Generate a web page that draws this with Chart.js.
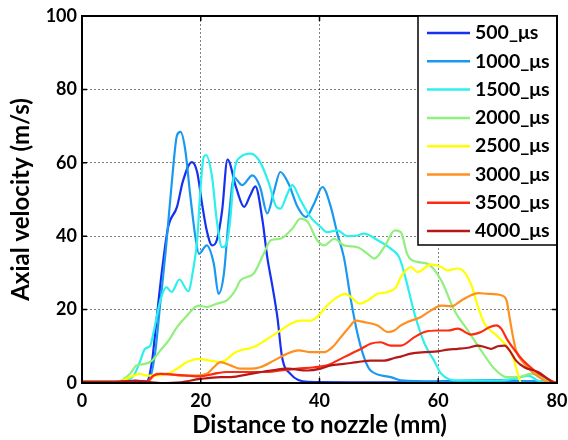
<!DOCTYPE html>
<html>
<head>
<meta charset="utf-8">
<script src="https://cdn.jsdelivr.net/npm/chart.js@4"></script>
<style>
  html, body { margin: 0; padding: 0; background: #fff; }
  #wrap { width: 568px; height: 440px; }
</style>
</head>
<body>
<div id="wrap"><canvas id="velocity"></canvas></div>
<script>
// Series labels and colours (jet-like)
const seriesLabels = ["500_μs", "1000_μs", "1500_μs", "2000_μs", "2500_μs", "3000_μs", "3500_μs", "4000_μs"];
const seriesColors = ["#1530f0", "#1a98f0", "#2cf0ec", "#90f07c", "#ffff00", "#ff9020", "#ff2a10", "#b41818"];

// Distance to nozzle (mm) / axial velocity (m/s)
const x500 = [0, 5, 9, 10.9, 11.8, 12.6, 13.5, 14.5, 16, 17, 18.5, 19.4, 20.2, 21, 21.9, 22.7, 23.6, 24.5, 26, 27.3, 28.3, 29.2, 30.4, 31.2, 32, 32.9, 33.7, 35.1, 38, 45, 55, 62, 70, 76, 80];
const v500 = [0.3, 0.3, 0.6, 0.5, 6, 18, 31, 42.4, 48, 55, 60.2, 57.4, 49, 41.6, 37.5, 38.9, 47, 60.9, 53, 48, 51, 53.6, 44.3, 34.3, 27, 18, 7, 2.5, 0.3, 0.2, 0.2, 0.5, 0.8, 0.3, 0];

const x1000 = [0, 5, 9, 11.2, 12.3, 13.2, 14.1, 15.2, 16, 16.6, 17.4, 18.2, 19.1, 19.7, 21, 22.2, 23, 23.9, 24.7, 25.6, 27, 28.7, 30, 31.2, 32.3, 33.4, 34.8, 36.3, 37.7, 39.1, 40.5, 41.9, 43, 44.1, 45.3, 46.4, 47.5, 48.6, 52, 53.7, 60, 70, 76, 80];
const v1000 = [0.3, 0.3, 0.5, 0.5, 8, 22, 36, 56, 67.5, 68.4, 63.4, 51.6, 39.8, 35.2, 37.5, 32.5, 24.3, 29.8, 44.6, 56, 53.9, 56.6, 53.4, 46.2, 52, 57.5, 54.3, 48, 45.2, 48.9, 53.4, 48, 40.7, 34.3, 22.5, 13.4, 7, 3.4, 1.6, 0.7, 0.4, 0.4, 0.5, 0];

const x1500 = [0, 5, 6.4, 8.7, 9.8, 10.6, 11.5, 12, 13.2, 14.2, 15.1, 16.4, 17.9, 18.7, 19.4, 19.9, 20.5, 20.9, 21.9, 22.7, 23.6, 24.3, 25, 25.6, 26.7, 28.4, 30, 31.5, 32.6, 33.4, 34.6, 35.4, 36.8, 38.5, 40.2, 41.3, 43, 44.7, 46.4, 47.5, 49.8, 52, 53.4, 54.3, 56, 57.7, 59.3, 60.5, 63.3, 70, 73, 75.1, 77, 80];
const v1500 = [0.3, 0.3, 0.3, 2, 6, 9.3, 10.2, 13.4, 22.5, 26.1, 24.8, 28.2, 25, 30.7, 38.9, 51.6, 61.6, 62.1, 56.2, 44.3, 37, 37.8, 45, 57, 61.6, 62.5, 60.2, 54.3, 48.4, 47.5, 51.6, 53.9, 49.8, 45.2, 42.5, 41.1, 41.6, 40, 40.2, 40.7, 38.9, 36.6, 34.3, 29.8, 18.9, 10.7, 6.1, 2.5, 0.7, 0.7, 1.2, 2, 0.5, 0];

const x2000 = [0, 5, 5.9, 8.1, 9.2, 10.6, 11.8, 13.2, 14.6, 16, 17.7, 19.6, 21, 22.7, 24.4, 25.8, 26.7, 28.9, 30.6, 31.8, 33.4, 35.4, 36.8, 38, 39.6, 40.8, 42.5, 44.1, 46.4, 48.1, 49.2, 50.9, 52.7, 53.7, 54.8, 56.5, 58.2, 60.5, 62.7, 65, 67.2, 69.5, 71.5, 73.5, 75.5, 77, 78.5, 80];
const v2000 = [0.3, 0.3, 0.3, 2.5, 4.8, 5.2, 6.1, 8.9, 11.6, 15.2, 18.4, 21.1, 20.7, 21.6, 22.5, 25.2, 28, 29.8, 35.2, 38.9, 39.3, 42, 44.8, 43.9, 38.9, 37.5, 39.3, 37.5, 37, 35.2, 33.9, 37, 41.6, 41.1, 35, 33, 32.5, 28, 19.8, 14.3, 8.9, 3.8, 1.6, 1.6, 2.5, 2.2, 0.7, 0];

const x2500 = [0, 5, 5.9, 8.1, 9.8, 10.9, 12.6, 14.3, 16, 17.7, 19.6, 21.6, 23.3, 24.4, 25.5, 26.7, 28.9, 31.2, 33.4, 35.1, 36.8, 38.5, 39.6, 41.3, 43, 44.4, 45.6, 46.7, 48.1, 49.8, 51.5, 52.9, 53.7, 55.4, 56.5, 58.8, 60.5, 61.6, 63.3, 64.1, 65.5, 66.7, 67.8, 69.5, 71.2, 72.6, 73.4, 74, 80];
const v2500 = [0.3, 0.3, 0.3, 1.6, 2.5, 2, 2, 2.5, 3.9, 5.7, 6.6, 6.1, 5.7, 6.5, 8, 8.9, 9.8, 12, 14.3, 16.1, 17, 17, 18, 21.1, 23.4, 24.3, 23, 21.6, 22.5, 24.3, 24.8, 26.1, 28.9, 31.6, 30.2, 32.3, 31.6, 30.7, 31.2, 30.7, 27, 20.7, 16.1, 13.4, 10.7, 7, 2.5, 0, 0];

const x3000 = [0, 5, 10.9, 12.6, 14.3, 16.6, 18.8, 21, 22.2, 23.3, 25, 26.7, 28.4, 30, 32.3, 34.3, 36.5, 38.5, 40.8, 42.2, 43.6, 45, 46.1, 47.5, 49.8, 51.5, 52.6, 53.7, 54.8, 57.1, 58.8, 60.5, 62.2, 63.9, 65.5, 66.7, 68.4, 70.6, 71.5, 72, 72.6, 73.1, 74.5, 76.2, 77.9, 79, 80];
const v3000 = [0.3, 0.3, 0.3, 2.5, 2.5, 2, 2, 2.5, 4.3, 5.7, 4.8, 3.9, 3.9, 4.3, 6.1, 7.8, 8.9, 8.4, 8.4, 9.8, 12.5, 15.2, 17, 16.6, 15.7, 13.9, 14.3, 15.7, 16.6, 18, 19.8, 21.1, 20.9, 22.5, 23.9, 24.5, 24.3, 23.9, 22.5, 18, 12.5, 8.9, 5.2, 2.5, 0.7, 0, 0];

const x3500 = [0, 5, 9, 10.9, 12, 13.2, 15.4, 17.7, 19.9, 22.2, 24.4, 26.7, 30.6, 33.4, 36.3, 39.1, 41.3, 43, 45.3, 47, 48.6, 50.3, 52, 53.7, 56, 57.7, 59.9, 61.6, 63.3, 65.5, 67.2, 68.6, 69.8, 70.6, 71.7, 72.9, 74.3, 76.2, 77.9, 79.6, 80];
const v3500 = [0.3, 0.3, 0.6, 0.3, 2, 2.5, 2.3, 2, 1.8, 2.5, 3, 3, 3, 3.4, 3.9, 4.3, 4.8, 6.1, 8, 9.3, 10.7, 11.1, 10.2, 10.2, 12.5, 13.9, 14.3, 14.3, 14.8, 13.2, 13.9, 15.2, 15.7, 14.8, 11.6, 8.9, 6.1, 3.4, 1.6, 0.2, 0];

const x4000 = [0, 5, 9, 13.2, 16.6, 19.9, 23.3, 25, 28.4, 31.8, 34.6, 38, 40.2, 41.9, 44.1, 46.4, 48.6, 50.9, 52.6, 53.7, 55.4, 57.7, 59.9, 61.6, 63.3, 65, 66.7, 67.8, 68.9, 70, 71.2, 72, 73.1, 74.5, 76.8, 78.5, 79.6, 80];
const v4000 = [0.3, 0.3, 0.6, 0, 0.2, 1.1, 1.6, 1.6, 2.5, 3.4, 3.9, 3.4, 3.9, 4.8, 5.2, 5.7, 6.1, 6.1, 6.8, 7.2, 8, 8.4, 8.6, 9.1, 9.3, 9.6, 10.2, 9.8, 9.3, 10, 10.2, 8.9, 6.1, 4.3, 3, 1.1, 0, 0];

const xTicks = [0, 20, 40, 60, 80];
const yTicks = [0, 20, 40, 60, 80, 100];

const seriesX = [x500, x1000, x1500, x2000, x2500, x3000, x3500, x4000];
const seriesV = [v500, v1000, v1500, v2000, v2500, v3000, v3500, v4000];

const FONT = "Lato, 'Open Sans', sans-serif";

const datasets = seriesLabels.map((label, i) => ({
  label: label,
  data: seriesX[i].map((x, j) => ({ x: x, y: seriesV[i][j] })),
  borderColor: seriesColors[i],
  backgroundColor: seriesColors[i],
  borderWidth: 2.2,
  pointRadius: 0,
  cubicInterpolationMode: "monotone",
  fill: false,
  order: 7 - i, // later series on top, like the original
}));

// Box around the plot with inward ticks, MATLAB style
const framePlugin = {
  id: "frame",
  afterDatasetsDraw(chart) {
    const { ctx, chartArea: a, scales } = chart;
    ctx.save();
    ctx.strokeStyle = "#000";
    ctx.lineWidth = 2;
    ctx.strokeRect(a.left, a.top, a.right - a.left, a.bottom - a.top);
    ctx.lineWidth = 1.5;
    const t = 5;
    ctx.beginPath();
    xTicks.forEach((v) => {
      const px = scales.x.getPixelForValue(v);
      ctx.moveTo(px, a.bottom); ctx.lineTo(px, a.bottom - t);
      ctx.moveTo(px, a.top); ctx.lineTo(px, a.top + t);
    });
    yTicks.forEach((v) => {
      const py = scales.y.getPixelForValue(v);
      ctx.moveTo(a.left, py); ctx.lineTo(a.left + t, py);
      ctx.moveTo(a.right, py); ctx.lineTo(a.right - t, py);
    });
    ctx.stroke();
    ctx.restore();
  },
};

// Legend box in the top-right corner of the plot
const legendBox = {
  id: "legendBox",
  afterDraw(chart) {
    const { ctx, chartArea: a } = chart;
    const w = 139, h = 229;
    const x0 = a.right - w, y0 = a.top;
    ctx.save();
    ctx.fillStyle = "#fff";
    ctx.fillRect(x0, y0, w, h);
    ctx.strokeStyle = "#000";
    ctx.lineWidth = 1.5;
    ctx.strokeRect(x0, y0, w, h);
    ctx.font = "bold 19.5px " + FONT;
    ctx.textBaseline = "middle";
    ctx.textAlign = "left";
    seriesLabels.forEach((label, i) => {
      const y = y0 + 17 + i * 28.3;
      ctx.strokeStyle = seriesColors[i];
      ctx.lineWidth = 2.5;
      ctx.beginPath();
      ctx.moveTo(x0 + 9, y);
      ctx.lineTo(x0 + 52, y);
      ctx.stroke();
      ctx.fillStyle = "#000";
      ctx.fillText(label, x0 + 57, y);
    });
    // redraw the right frame edge over the legend border
    ctx.strokeStyle = "#000";
    ctx.lineWidth = 2;
    ctx.beginPath();
    ctx.moveTo(a.right, a.top);
    ctx.lineTo(a.right, y0 + h);
    ctx.stroke();
    ctx.restore();
  },
};

new Chart(document.getElementById("velocity"), {
  type: "line",
  data: { datasets: datasets },
  options: {
    responsive: true,
    maintainAspectRatio: false,
    animation: false,
    layout: { padding: { top: 16, right: 0, left: 0, bottom: 0 } },
    plugins: {
      legend: { display: false },
      tooltip: { enabled: false },
    },
    scales: {
      x: {
        type: "linear",
        min: 0,
        max: 80,
        afterBuildTicks: (s) => { s.ticks = xTicks.map((v) => ({ value: v })); },
        afterFit: (s) => { s.height = 57; s.paddingRight = 11; s.paddingLeft = 0; },
        grid: { color: "rgba(0,0,0,0.5)", lineWidth: 1, drawTicks: false },
        border: { display: false, dash: [2, 2] },
        ticks: { color: "#000", padding: 7, font: { family: FONT, size: 18, weight: "bold" } },
        title: {
          display: true,
          text: "Distance to nozzle (mm)",
          color: "#000",
          font: { family: FONT, size: 24, weight: "bold" },
          padding: { top: 0, bottom: 0 },
        },
      },
      y: {
        type: "linear",
        min: 0,
        max: 100,
        afterBuildTicks: (s) => { s.ticks = yTicks.map((v) => ({ value: v })); },
        afterFit: (s) => { s.width = 82; s.paddingTop = 0; s.paddingBottom = 0; },
        grid: { color: "rgba(0,0,0,0.5)", lineWidth: 1, drawTicks: false },
        border: { display: false, dash: [2, 2] },
        ticks: { color: "#000", padding: 5, font: { family: FONT, size: 18, weight: "bold" } },
        title: {
          display: true,
          text: "Axial velocity (m/s)",
          color: "#000",
          font: { family: FONT, size: 24, weight: "bold" },
          padding: { top: 7, bottom: 0 },
        },
      },
    },
  },
  plugins: [framePlugin, legendBox],
});
</script>
</body>
</html>
